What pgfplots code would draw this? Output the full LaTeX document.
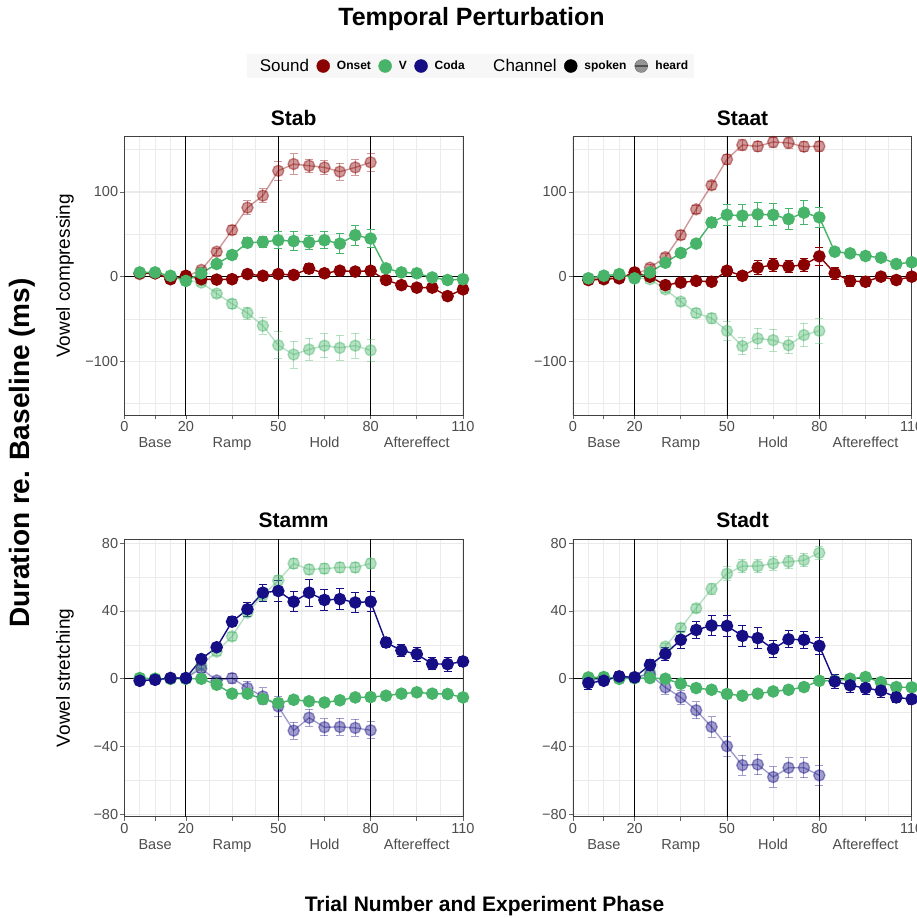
\documentclass[border=0pt]{standalone}
\usepackage{fontspec}
\setmainfont{Liberation Sans}
\usepackage{pgfplots}
\usepackage{pgfplotstable}
\pgfplotsset{compat=1.18}
\definecolor{onset}{RGB}{139,0,0}
\definecolor{vow}{RGB}{72,180,105}
\definecolor{coda}{RGB}{22,14,132}
\definecolor{tickgray}{RGB}{77,77,77}

% ---------------- data: x  y  err ----------------
\pgfplotstableread{
x y e
5 4 3
10 4 3
15 -3 3
20 1 3
25 -3 3
30 -3.5 3
35 -3 3
40 3 4
45 1 5
50 3 4
55 2 4
60 9.5 6
65 4 4
70 7 5
75 6 4
80 7 4
85 -4 4
90 -10 4
95 -13 4
100 -13 4
105 -23 4
110 -15 4
}\StabOnsetS
\pgfplotstableread{
x y e
5 5 2
10 5 2
15 1 2
20 -5 3
25 4 3
30 15 3
35 25.6 4
40 40 6
45 41 7
50 43 10
55 42 11
60 40.5 8
65 43 10
70 39 12
75 49 12
80 45 11
85 9.8 4
90 5 3
95 4 3
100 -1 3
105 -4 3
110 -3 3
}\StabVS
\pgfplotstableread{
x y e
5 3 3
10 4 3
15 -2 3
20 0 3
25 8 3
30 29.5 4
35 55 5
40 81.5 8
45 95.7 8
50 125 11
55 133 12
60 131 8
65 129 8
70 124 10
75 129 9
80 135 11
}\StabOnsetH
\pgfplotstableread{
x y e
5 4 2
10 4 2
15 0 2
20 -4 3
25 -7 3
30 -20 4
35 -32 5
40 -43 7
45 -58 10
50 -81 16
55 -92 16
60 -86 13
65 -81.5 14
70 -84 15
75 -81.5 15
80 -87 13
}\StabVH
\pgfplotstableread{
x y e
5 -4 3
10 -3 3
15 -2 3
20 5 3
25 0 3
30 -10 4
35 -7 4
40 -5 4
45 -6 4
50 7 5
55 1 4
60 10.6 8
65 14 8
70 12 7
75 14 8
80 24 11
85 4 7
90 -5 6
95 -6 6
100 0 4
105 -4 4
110 0 4
}\StaatOnsetS
\pgfplotstableread{
x y e
5 -2 2
10 1 2
15 3 2
20 -2 2
25 5 3
30 16.5 3
35 28 4
40 39 5
45 64 6
50 73 12
55 72 13
60 73.6 14
65 73 13
70 68 12
75 75.6 14
80 70 12
85 29.5 4
90 27.5 4
95 24.4 4
100 22.4 4
105 15 4
110 17 4
}\StaatVS
\pgfplotstableread{
x y e
5 -3 3
10 -1 3
15 0 3
20 2 3
25 10.6 4
30 23 4
35 49 5
40 79.5 5
45 108 5
50 138.6 6
55 155.5 6
60 154 6
65 159 6
70 158 6
75 153.5 6
80 154 6
}\StaatOnsetH
\pgfplotstableread{
x y e
5 -2 2
10 1 2
15 2 2
20 -1 2
25 -3 3
30 -15 4
35 -29.5 4
40 -43 5
45 -49 6
50 -64 11
55 -82 10
60 -73 12
65 -75 13
70 -81 10
75 -69 14
80 -64 15
}\StaatVH
\pgfplotstableread{
x y e
5 -1.2 1.5
10 -0.6 1.5
15 0.4 1.5
20 0.4 1.5
25 11.6 2.5
30 18.6 2.5
35 33.7 3
40 41 4
45 50.8 5
50 51.8 6
55 45.5 6
60 50.8 8
65 46.5 6
70 47 6
75 45 6
80 45.5 6
85 21.4 3
90 16.7 3.5
95 14.5 4
100 8.8 3.5
105 8.6 4
110 10.2 3
}\StammCodaS
\pgfplotstableread{
x y e
5 0.4 1
10 0 1
15 0 1
20 0 1
25 0 1
30 -3.5 1.2
35 -8.8 1.2
40 -8.8 1.2
45 -12 1.5
50 -14.3 1.5
55 -12.4 1.5
60 -13.3 1.5
65 -14 1.5
70 -12.7 1.5
75 -11 1.5
80 -10.8 1.5
85 -10 1.5
90 -8.8 1.5
95 -8 1.5
100 -8.8 1.5
105 -9 1.5
110 -11 1.5
}\StammVS
\pgfplotstableread{
x y e
5 0 1
10 0 1
15 0 1
20 0 1
25 8 2
30 16 2
35 25 2.5
40 39 2.5
45 49.4 3
50 58 3
55 68 3
60 64.5 3
65 65 3
70 65.7 3
75 65.7 3
80 68 3
}\StammVH
\pgfplotstableread{
x y e
5 -1 1
10 -0.5 1
15 0.5 1
20 0.5 1
25 6 2
30 -1 2
35 0.4 3
40 -5.5 4
45 -10.4 5
50 -16.3 6
55 -30.6 5
60 -23 5
65 -28.6 5
70 -28.4 5
75 -29 5
80 -30.4 5
}\StammCodaH
\pgfplotstableread{
x y e
5 -2.5 4
10 -1.2 2
15 1.4 3
20 0.8 2
25 8.2 3
30 14.7 4
35 23 5
40 28.8 5
45 31.4 6
50 31.2 6
55 25.3 6
60 24 6
65 17.6 5
70 23.3 5
75 23 5
80 19.4 5
85 -1.6 4
90 -3.9 4
95 -5.5 4
100 -7 4
105 -11 3
110 -12 3
}\StadtCodaS
\pgfplotstableread{
x y e
5 0.8 1.5
10 1 1.5
15 0 1.5
20 0.4 1.5
25 0.4 1.5
30 0 1.5
35 -2.9 1.5
40 -5.5 1.5
45 -6.5 1.5
50 -9 1.5
55 -10 1.5
60 -8.8 1.5
65 -7.5 1.5
70 -6.5 1.5
75 -4.9 1.5
80 -1.2 1.5
85 -1.2 1.5
90 0 1.5
95 1 1.5
100 -2 1.5
105 -4.9 1.5
110 -5.1 1.5
}\StadtVS
\pgfplotstableread{
x y e
5 0 1.5
10 0.5 1.5
15 0 1.5
20 0.3 1.5
25 4 2
30 19 2
35 30 2.5
40 41.6 2.5
45 53 3
50 62 4
55 66.5 4
60 66.5 4
65 68 4
70 69 4
75 70 4
80 74.3 4
}\StadtVH
\pgfplotstableread{
x y e
5 -1 1.5
10 0 1.5
15 1 1.5
20 1 1.5
25 2.4 3
30 -5.1 4
35 -11 4
40 -18.6 5
45 -28.4 6
50 -39.8 6
55 -51 6
60 -50.6 6
65 -58 6
70 -52.5 6
75 -52.5 6
80 -57 6
}\StadtCodaH

\pgfplotsset{
  panel/.style={
    scale only axis, width=338.7pt, xmin=0, xmax=110,
    axis line style={black!75, line width=0.7pt},
    xtick={0,10,20,35,50,65,80,95,110},
    xticklabels={0,{\phantom{0}\\Base},20,{\phantom{0}\\Ramp},50,{\phantom{0}\\Hold},80,{\phantom{0}\\Aftereffect},110},
    minor xtick={5,15,27.5,42.5,57.5,72.5,87.5,102.5},
    xticklabel style={align=center, font=\fontsize{14.5}{16.5}\selectfont, text=tickgray, inner sep=2pt},
    yticklabel style={font=\fontsize{14.5}{16.5}\selectfont, text=tickgray, inner sep=2pt},
    tick pos=left, tick align=outside, major tick length=4pt, minor tick length=0pt,
    tick style={black!60, line width=0.7pt},
    grid=both,
    major grid style={black!8, line width=1.1pt},
    minor grid style={black!8, line width=0.55pt},
    clip=true,
  },
  toprow/.style={panel, height=278.3pt, ymin=-163.4, ymax=165.3,
    ytick={-100,0,100}, yticklabels={−100,0,100}, minor ytick={-150,-50,50,150}},
  botrow/.style={panel, height=277.4pt, ymin=-81.4, ymax=82.3,
    ytick={-80,-40,0,40,80}, yticklabels={−80,−40,0,40,80}, minor ytick={-60,-20,20,60}},
  ser/.style 2 args={color=#1, opacity=#2, mark=*, mark size=5.6pt, line width=1.4pt,
    mark options={draw=none, fill=#1, fill opacity=#2, solid}, forget plot,
    error bars/.cd, y dir=both, y explicit,
    error bar style={line width=0.9pt, color=#1, opacity=#2},
    error mark options={rotate=90, mark size=4pt, line width=0.9pt, color=#1, draw opacity=#2}},
  refl/.style={black, line width=0.8pt, forget plot, mark=none},
}
\newcommand{\reflines}{%
  \addplot[refl] coordinates {(20,-500) (20,500)};
  \addplot[refl] coordinates {(50,-500) (50,500)};
  \addplot[refl] coordinates {(80,-500) (80,500)};
  \addplot[refl] coordinates {(-10,0) (120,0)};
}
\newcommand{\ser}[3]{\addplot[ser={#1}{#2}] table[x=x, y=y, y error=e] {#3};}

\begin{document}
\begin{tikzpicture}
\useasboundingbox (0pt,0pt) rectangle (917pt,-918pt);
\fill[white] (0pt,0pt) rectangle (917pt,-918pt);

% ---------- Stab ----------
\begin{axis}[toprow, at={(124.3pt,-415pt)}, anchor=south west,
  legend style={at={(1.0222,1.254)}, anchor=center, draw=none, fill=black!3,
    legend columns=7, inner xsep=6pt, inner ysep=5pt,
    /tikz/every odd column/.style={column sep=7pt},
    /tikz/every even column/.style={column sep=7.5pt},
    nodes={inner sep=0pt}}]
\reflines
\ser{onset}{0.4}{\StabOnsetH}
\ser{vow}{0.4}{\StabVH}
\ser{onset}{1}{\StabOnsetS}
\ser{vow}{1}{\StabVS}
\addlegendimage{legend image code/.code={}}
\addlegendentry{\fontsize{17}{17}\selectfont Sound}
\addlegendimage{legend image code/.code={\fill[onset] (6.5pt,0pt) circle (6.5pt);}}
\addlegendentry{\fontsize{12}{12}\selectfont\bfseries Onset}
\addlegendimage{legend image code/.code={\fill[vow] (6.5pt,0pt) circle (6.5pt);}}
\addlegendentry{\fontsize{12}{12}\selectfont\bfseries V}
\addlegendimage{legend image code/.code={\fill[coda] (6.5pt,0pt) circle (6.5pt);}}
\addlegendentry{\fontsize{12}{12}\selectfont\bfseries Coda}
\addlegendimage{legend image code/.code={}}
\addlegendentry{\hspace{14pt}\fontsize{17}{17}\selectfont Channel}
\addlegendimage{legend image code/.code={\fill[black] (6.5pt,0pt) circle (6.5pt);}}
\addlegendentry{\fontsize{12}{12}\selectfont\bfseries spoken}
\addlegendimage{legend image code/.code={\draw[black, opacity=0.45, line width=1.5pt] (0pt,0pt) -- (13pt,0pt); \fill[black, opacity=0.4] (6.5pt,0pt) circle (6.5pt);}}
\addlegendentry{\fontsize{12}{12}\selectfont\bfseries heard}
\end{axis}

% ---------- Staat ----------
\begin{axis}[toprow, at={(573pt,-415pt)}, anchor=south west]
\reflines
\ser{onset}{0.4}{\StaatOnsetH}
\ser{vow}{0.4}{\StaatVH}
\ser{onset}{1}{\StaatOnsetS}
\ser{vow}{1}{\StaatVS}
\end{axis}

% ---------- Stamm ----------
\begin{axis}[botrow, at={(124.3pt,-816.7pt)}, anchor=south west]
\reflines
\ser{vow}{0.4}{\StammVH}
\ser{coda}{0.4}{\StammCodaH}
\ser{vow}{1}{\StammVS}
\ser{coda}{1}{\StammCodaS}
\end{axis}

% ---------- Stadt ----------
\begin{axis}[botrow, at={(573pt,-816.7pt)}, anchor=south west]
\reflines
\ser{vow}{0.4}{\StadtVH}
\ser{coda}{0.4}{\StadtCodaH}
\ser{vow}{1}{\StadtVS}
\ser{coda}{1}{\StadtCodaS}
\end{axis}

% ---------- texts ----------
\node[font=\fontsize{25}{25}\selectfont\bfseries] at (471.5pt,-19pt) {Temporal Perturbation};
\node[font=\fontsize{21}{21}\selectfont\bfseries] at (293.6pt,-118pt) {Stab};
\node[font=\fontsize{21}{21}\selectfont\bfseries] at (742.5pt,-118pt) {Staat};
\node[font=\fontsize{21}{21}\selectfont\bfseries] at (293.6pt,-520pt) {Stamm};
\node[font=\fontsize{21}{21}\selectfont\bfseries] at (742.5pt,-520pt) {Stadt};
\node[rotate=90, font=\fontsize{19}{19}\selectfont] at (65pt,-275.9pt) {Vowel compressing};
\node[rotate=90, font=\fontsize{19}{19}\selectfont] at (65pt,-678pt) {Vowel stretching};
\node[rotate=90, font=\fontsize{28}{28}\selectfont\bfseries] at (22pt,-453pt) {Duration re. Baseline (ms)};
\node[font=\fontsize{21}{21}\selectfont\bfseries] at (484.5pt,-906pt) {Trial Number and Experiment Phase};
\end{tikzpicture}
\end{document}
